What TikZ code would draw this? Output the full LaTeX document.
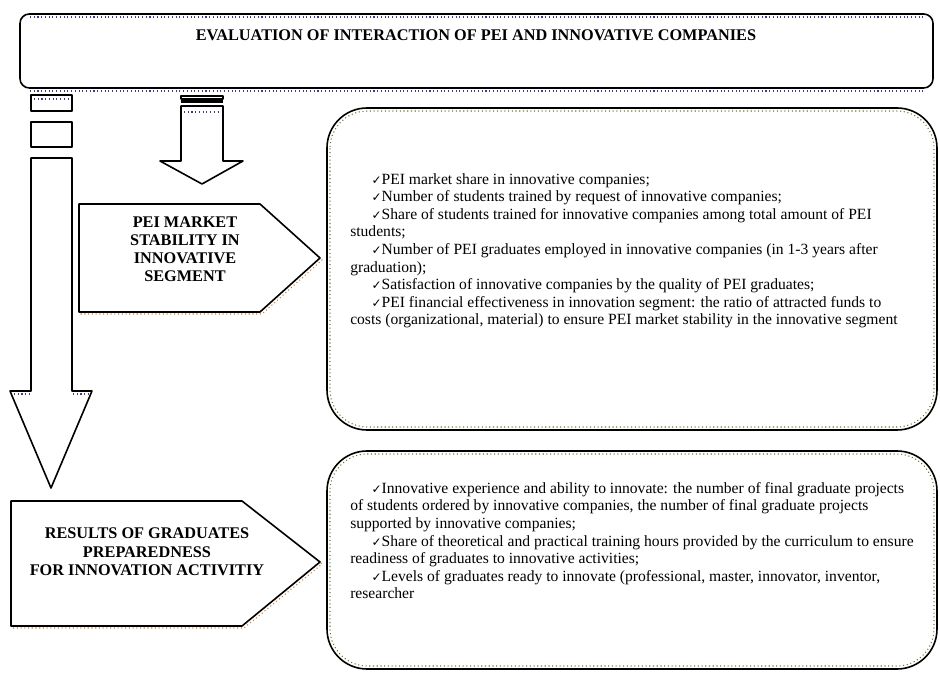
\documentclass[tikz,border=0pt]{standalone}
\usepackage{fontspec}
\setmainfont{Liberation Serif}
\newfontfamily\symfont{DejaVu Sans}
\usetikzlibrary{calc}
\usetikzlibrary{positioning}

\definecolor{dotblue}{RGB}{60,60,140}
\definecolor{dotolive}{RGB}{110,120,50}
\definecolor{dotorange}{RGB}{205,125,55}

\newcommand{\chk}{\hspace*{16pt}{\symfont\small ✓}}

\begin{document}
\begin{tikzpicture}[x=0.75pt, y=-0.75pt,
  frame/.style={black, line width=1.2pt, line join=round},
  dotline/.style={dotted, line width=0.8pt},
  heading/.style={font=\bfseries\fontsize{12.2}{14}\selectfont, align=center, inner sep=0pt},
  listtext/.style={font=\fontsize{11.7}{13.2}\selectfont, align=left, anchor=north west, inner sep=0pt}]
\useasboundingbox (0,0) rectangle (940,673);

% header
\draw[frame, rounded corners=7pt] (20,14) rectangle (933,88);
\draw[dotblue, dotline] (30,17) -- (923,17) (30,91) -- (923,91);
\node[heading] (title) at (476,35) {EVALUATION OF INTERACTION OF PEI AND INNOVATIVE COMPANIES};

% long striped arrow on the left
\draw[frame] (31,95) rectangle (72,111);
\draw[dotblue, dotline] (34,99) -- (69,99);
\draw[frame] (31,122) rectangle (72,147);
\draw[frame] (31,158) -- (72,158) -- (72,391) -- (92,391) -- (51,488) -- (10,391) -- (31,391) -- cycle;
\draw[dotblue, dotline] (14,394) -- (30,394) (73,394) -- (88,394);

% short striped arrow
\draw[frame, line width=0.9pt] (181,96) rectangle (223,99);
\fill (181,100.5) rectangle (223,103);
\draw[frame] (181,106) -- (223,106) -- (223,161) -- (243,161) -- (202,184) -- (160,161) -- (181,161) -- cycle;
\draw[dotblue, dotline] (184,112) -- (220,112);

% pentagons
\draw[dotorange, dotline] (81,206) -- (262,206) -- (322,260) -- (262,314) -- (81,314) -- cycle;
\draw[frame, fill=white] (79,204) -- (260,204) -- (320,258) -- (260,312) -- (79,312) -- cycle;
\node[heading, font=\bfseries\fontsize{12.2}{13.5}\selectfont] (market) at (185,249) {PEI MARKET\\STABILITY IN\\INNOVATIVE\\SEGMENT};

\draw[dotorange, dotline] (13,503) -- (244,503) -- (322,564) -- (244,628) -- (13,628) -- cycle;
\draw[frame, fill=white] (11,501) -- (242,501) -- (320,562) -- (242,626) -- (11,626) -- cycle;
\node[heading] (results) at (147,552) {RESULTS OF GRADUATES\\PREPAREDNESS\\FOR INNOVATION ACTIVITIY};

% indicator boxes
\draw[frame, rounded corners=30pt] (327,108) rectangle (937,430);
\draw[dotolive, dotline, rounded corners=28pt] (330,111) rectangle (934,427);
\draw[frame, rounded corners=30pt] (327,451) rectangle (937,669);
\draw[dotolive, dotline, rounded corners=28pt] (330,454) rectangle (934,666);

\node[listtext] (marketlist) at (350,173) {%
\chk PEI market share in innovative companies;\\
\chk Number of students trained by request of innovative companies;\\
\chk Share of students trained for innovative companies among total amount of PEI\\
students;\\
\chk Number of PEI graduates employed in innovative companies (in 1-3 years after\\
graduation);\\
\chk Satisfaction of innovative companies by the quality of PEI graduates;\\
\chk PEI financial effectiveness in innovation segment: the ratio of attracted funds to\\
costs (organizational, material) to ensure PEI market stability in the innovative segment};

\node[listtext] (resultslist) at (350,482) {%
\chk Innovative experience and ability to innovate: the number of final graduate projects\\
of students ordered by innovative companies, the number of final graduate projects\\
supported by innovative companies;\\
\chk Share of theoretical and practical training hours provided by the curriculum to ensure\\
readiness of graduates to innovative activities;\\
\chk Levels of graduates ready to innovate (professional, master, innovator, inventor,\\
researcher};
\end{tikzpicture}
\end{document}
